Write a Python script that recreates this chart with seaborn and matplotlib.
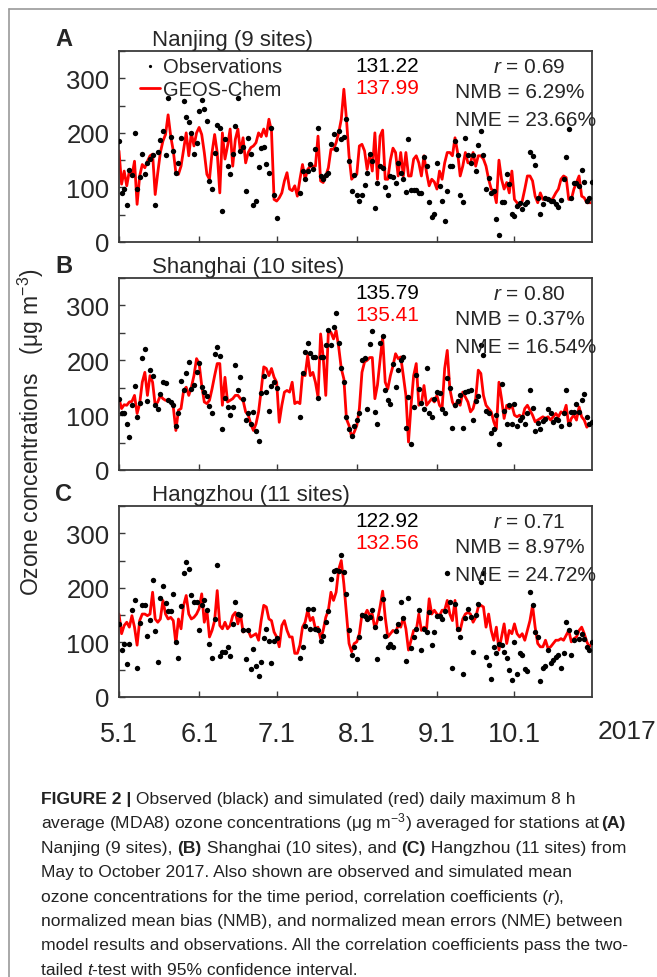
import numpy as np
import pandas as pd
import matplotlib
matplotlib.use("Agg")
import matplotlib.pyplot as plt
from matplotlib.ticker import MultipleLocator
from matplotlib.lines import Line2D
import seaborn as sns

nan = np.nan
dates = pd.date_range("2017-05-01", "2017-10-31", freq="D")

nanjing_obs = [185, 89, 97, 67, 132, 123, 200, 97, 120, 161,
               125, 145, 153, 159, 68, 165, 187, 203, 159, 263,
               192, 166, 127, 145, 191, 258, 229, 220, 199, 161,
               182, 240, 261, 244, 221, 112, 97, 163, 214, 209,
               56, 188, 139, 124, 162, 213, 263, 167, 175, 94,
               191, 161, 67, 76, 138, 172, 174, 143, 126, 208,
               87, 44, nan, nan, nan, nan, nan, nan, nan, nan,
               90, 130, 116, 130, 143, 134, 170, 209, 121, 116,
               123, 126, 180, 197, 171, 203, 189, 192, 225, 149,
               94, 122, 87, 76, 87, 104, 126, 162, 148, 63,
               109, 139, 136, 100, 86, 121, 120, 109, 144, 126,
               115, 92, 188, 95, 95, 95, 90, 90, 156, 139,
               73, 46, 52, 144, 103, 75, 39, 93, 139, 140,
               185, 160, 87, 73, 191, 160, 144, 160, 130, 177,
               203, 160, 98, 118, 89, 94, 43, 12, 73, 73,
               124, 106, 51, 48, 66, 71, 61, 70, 73, 165,
               158, 141, 81, 51, 69, 81, 78, 75, 75, 70,
               65, 77, 116, 156, 207, 81, 109, 108, 103, 132,
               110, 75, 81, 110]
nanjing_sim = [167, 106, 130, 103, 130, 121, 148, 69, 121, 142,
               136, 148, 158, 161, 87, 127, 164, 185, 197, 233,
               194, 167, 127, 124, 139, 170, 200, 158, 200, 176,
               200, 210, 197, 164, 124, 115, 164, 197, 164, 90,
               200, 152, 176, 207, 139, 188, 207, 164, 191, 145,
               164, 173, 176, 182, 200, 193, 207, 194, 225, 203,
               78, 75, 81, 90, 112, 127, 97, 94, 103, 84,
               115, 142, 115, 133, 139, 139, 139, 194, 112, 109,
               121, 136, 170, 170, 182, 200, 225, 280, 225, 158,
               115, 121, 124, 176, 179, 167, 133, 160, 130, 200,
               115, 194, 205, 115, 115, 150, 172, 164, 121, 164,
               121, 164, 121, 121, 152, 158, 145, 121, 158, 127,
               103, 115, 110, 97, 130, 115, 145, 164, 164, 158,
               191, 164, 121, 139, 164, 145, 145, 164, 139, 158,
               158, 152, 139, 115, 97, 94, 72, 150, 115, 97,
               109, 90, 130, 78, 72, 66, 75, 97, 121, 121,
               112, 84, 72, 90, 78, 81, 78, 75, 81, 90,
               97, 115, 121, 118, 78, 78, 97, 109, 121, 84,
               81, 72, 72, 72]

shanghai_obs = [130, 103, 103, 84, 61, 118, 154, 97, 123, 205,
                221, 125, 182, 171, 119, 112, 138, 160, 159, 127,
                124, 118, 80, 104, 163, 145, 177, 197, 148, 155,
                178, 195, 151, 143, 135, 116, 104, 212, 225, 208,
                74, 131, 115, 101, 115, 191, 145, 169, 129, 92,
                104, 84, 106, 72, 53, 140, 171, 143, 107, 154,
                160, 150, nan, nan, nan, nan, nan, nan, nan, nan,
                97, 177, 215, 231, 213, 206, 206, 131, 206, 206,
                227, 256, 227, 260, 287, 232, 186, 161, 96, 75,
                62, 81, 91, 104, 200, 205, 112, 230, 253, 106,
                84, 232, 244, 145, 128, 121, 194, 151, 183, 200,
                206, 77, 133, 48, 115, 174, 148, 122, 112, 186,
                104, 97, 130, 142, 141, 112, 104, 168, 150, 77,
                118, 125, 137, 77, 142, 144, 146, 92, 125, 134,
                227, 209, 107, 103, 67, 75, 100, 47, 156, 107,
                84, 118, 84, 121, 81, 92, 97, 84, 103, 146,
                113, 72, 86, 74, 90, 93, 112, 104, 87, 93,
                92, 81, 103, 145, 84, 106, 106, 121, 106, 127,
                139, 97, 84, 87]
shanghai_sim = [130, 112, 119, 118, 124, 125, 136, 103, 121, 160,
                178, 136, 172, 160, 118, 124, 136, 130, 127, 127,
                124, 115, 72, 109, 112, 145, 151, 136, 151, 172,
                203, 194, 154, 124, 121, 127, 148, 172, 194, 194,
                118, 169, 124, 127, 130, 136, 136, 130, 127, 106,
                100, 84, 72, 84, 106, 145, 188, 185, 172, 185,
                169, 160, 87, 118, 142, 145, 142, 160, 121, 124,
                121, 175, 172, 209, 172, 178, 160, 133, 248, 206,
                136, 251, 251, 239, 254, 224, 185, 166, 93, 81,
                60, 69, 81, 112, 178, 197, 200, 205, 205, 130,
                155, 200, 242, 160, 148, 172, 190, 212, 203, 206,
                172, 136, 51, 118, 172, 194, 118, 121, 154, 118,
                124, 130, 124, 136, 118, 112, 185, 218, 148, 124,
                115, 127, 118, 142, 133, 124, 106, 112, 130, 182,
                176, 136, 118, 112, 106, 88, 75, 160, 130, 94,
                118, 112, 118, 100, 97, 100, 94, 112, 118, 109,
                100, 88, 91, 94, 97, 94, 97, 91, 97, 103,
                97, 106, 103, 118, 81, 94, 100, 91, 115, 97,
                91, 78, 84, 84]

hangzhou_obs = [134, 86, 98, 60, 98, 160, 178, 53, 135, 169,
                169, 111, 142, 214, 121, 65, 181, 204, 172, 157,
                157, 189, 100, 71, 166, 228, 248, 234, 186, 174,
                175, 123, 168, 178, 160, 98, 71, 143, 242, 75,
                82, 82, 92, 76, 133, 174, 152, 151, 123, 69,
                123, 51, 88, 57, 39, 64, 109, 125, 102, 62,
                102, 109, nan, nan, nan, nan, nan, nan, nan, nan,
                71, 92, 131, 162, 124, 162, 124, 123, 103, 111,
                137, 157, 216, 230, 232, 230, 260, 229, 189, 123,
                77, 92, 69, 110, 151, 148, 143, 146, 159, 128,
                69, 145, 180, 111, 92, 97, 92, 121, 133, 174,
                145, 66, 182, 89, 110, 125, 159, 87, 125, 119,
                156, 95, 119, 149, 148, 143, 157, 228, 175, 54,
                170, 125, 110, 42, 145, 162, 146, 82, 151, 171,
                210, 228, 74, 59, 33, 92, 80, 97, 95, 82,
                71, 50, 31, 101, 42, 80, 77, 51, 47, 192,
                169, 120, 110, 30, 54, 57, 86, 63, 67, 73,
                77, 54, 81, 137, 122, 77, 105, 119, 107, 116,
                107, 91, 86, 101]
hangzhou_sim = [152, 116, 131, 137, 128, 149, 128, 95, 140, 152,
                152, 149, 152, 192, 143, 137, 143, 177, 152, 143,
                146, 140, 98, 143, 125, 168, 186, 152, 143, 146,
                152, 162, 189, 137, 159, 110, 122, 140, 195, 131,
                125, 137, 125, 131, 149, 155, 134, 152, 119, 122,
                122, 110, 113, 116, 104, 140, 168, 165, 143, 140,
                119, 110, 92, 131, 140, 122, 110, 110, 80, 80,
                95, 128, 137, 159, 140, 146, 125, 128, 107, 122,
                146, 159, 192, 177, 192, 234, 250, 207, 152, 98,
                83, 98, 101, 116, 152, 149, 159, 150, 152, 125,
                140, 165, 194, 146, 110, 116, 122, 119, 131, 128,
                146, 125, 86, 104, 122, 122, 152, 122, 128, 125,
                180, 152, 159, 152, 149, 159, 159, 177, 152, 140,
                177, 122, 122, 143, 152, 155, 152, 137, 146, 165,
                168, 165, 128, 152, 122, 104, 128, 86, 110, 134,
                98, 122, 116, 134, 116, 110, 116, 104, 122, 140,
                168, 128, 98, 92, 92, 104, 89, 92, 98, 104,
                104, 107, 104, 113, 122, 101, 107, 110, 122, 128,
                116, 101, 92, 98]

panel_letters = ["A", "B", "C"]
panel_titles = ["Nanjing (9 sites)", "Shanghai (10 sites)", "Hangzhou (11 sites)"]
obs_means = ["131.22", "135.79", "122.92"]
sim_means = ["137.99", "135.41", "132.56"]
r_vals = ["0.69", "0.80", "0.71"]
nmb_vals = ["6.29%", "0.37%", "8.97%"]
nme_vals = ["23.66%", "16.54%", "24.72%"]
month_ticks = ["2017-05-01", "2017-06-01", "2017-07-01", "2017-08-01", "2017-09-01", "2017-10-01"]
month_labels = ["5.1", "6.1", "7.1", "8.1", "9.1", "10.1"]
year_label = "2017"
obs_series = [nanjing_obs, shanghai_obs, hangzhou_obs]
sim_series = [nanjing_sim, shanghai_sim, hangzhou_sim]

sns.set_style("ticks")
plt.rcParams["font.family"] = ["Liberation Sans", "DejaVu Sans"]
plt.rcParams["mathtext.fontset"] = "custom"
plt.rcParams["mathtext.rm"] = "Liberation Sans"
plt.rcParams["mathtext.it"] = "Liberation Sans:italic"
plt.rcParams["mathtext.bf"] = "Liberation Sans:bold"

W, H = 657, 978
fig = plt.figure(figsize=(W / 100, H / 100), dpi=100)


def fx(px):
    return px / W


def fy(py):
    return 1 - py / H


ax_left, ax_right = 119, 592
tops = [52, 279, 507]
bottoms = [243, 471, 698]
spine_col = "#3a3a3a"

for i in range(3):
    ax = fig.add_axes([fx(ax_left), fy(bottoms[i]), fx(ax_right - ax_left), (bottoms[i] - tops[i]) / H])
    df = pd.DataFrame({"date": dates, "obs": obs_series[i], "sim": sim_series[i]})
    sns.lineplot(data=df, x="date", y="sim", color="#ff0000", lw=2.0, ax=ax,
                 label="GEOS-Chem", zorder=2)
    sns.scatterplot(data=df, x="date", y="obs", color="black", s=15, linewidth=0,
                    ax=ax, label="Observations", zorder=3)
    ax.set_xlim(dates[0], dates[-1])
    ax.set_ylim(0, 350)
    ax.yaxis.set_major_locator(MultipleLocator(100))
    ax.yaxis.set_minor_locator(MultipleLocator(50))
    ax.set_xticks(pd.to_datetime(month_ticks))
    ax.set_xlabel("")
    ax.set_ylabel("")
    for sp in ax.spines.values():
        sp.set_color(spine_col)
        sp.set_linewidth(1.3)
        sp.set_visible(True)
    ax.tick_params(axis="both", which="both", direction="in", length=4, width=1.0,
                   color=spine_col, top=False, right=False)
    ax.tick_params(axis="y", which="major", labelsize=18.5, pad=7)
    if i < 2:
        ax.tick_params(axis="x", labelbottom=False)
    else:
        ax.set_xticklabels(month_labels)
        ax.tick_params(axis="x", labelsize=19.5, pad=17)
    handles, labels = ax.get_legend_handles_labels()
    if ax.get_legend() is not None:
        ax.get_legend().remove()
    if i == 0:
        hmap = dict(zip(labels, handles))
        ax.legend([hmap["Observations"], hmap["GEOS-Chem"]], ["Observations", "GEOS-Chem"],
                  loc="upper left", bbox_to_anchor=(0.045, 0.97), frameon=False,
                  borderpad=0, borderaxespad=0, handlelength=1.0, handletextpad=0.12,
                  labelspacing=0.22, markerscale=0.6, prop={"size": 14.5})

    top = tops[i]
    fig.text(fx(55), fy(top - 6), panel_letters[i], fontsize=17, fontweight="bold",
             ha="left", va="baseline")
    fig.text(fx(152), fy(top - 6), panel_titles[i], fontsize=16, ha="left", va="baseline")
    fig.text(fx(355), fy(top + 20), obs_means[i], fontsize=15, color="black", ha="left", va="baseline")
    fig.text(fx(355), fy(top + 42), sim_means[i], fontsize=15, color="#ff0000", ha="left", va="baseline")
    fig.text(fx(493), fy(top + 21), r"$\it{r}$ = " + r_vals[i], fontsize=15, ha="left", va="baseline")
    fig.text(fx(455), fy(top + 46), "NMB = " + nmb_vals[i], fontsize=15, ha="left", va="baseline")
    fig.text(fx(455), fy(top + 74), "NME = " + nme_vals[i], fontsize=15, ha="left", va="baseline")

fig.text(fx(627), fy(732), year_label, fontsize=19, ha="center", va="center")
fig.text(fx(31), fy(432), "Ozone concentrations   (\u03bcg m$^{-3}$)", rotation=90,
         fontsize=16.5, ha="center", va="center")

# figure frame
fig.add_artist(Line2D([fx(9), fx(9)], [0, fy(10)], transform=fig.transFigure, color="#9a9a9a", lw=1.2))
fig.add_artist(Line2D([fx(9), 1], [fy(10), fy(10)], transform=fig.transFigure, color="#9a9a9a", lw=1.2))

# caption
cap_lines = [
    [("FIGURE 2 |", "bold"), (" Observed (black) and simulated (red) daily maximum 8 h", "normal")],
    [("average (MDA8) ozone concentrations (\u03bcg m$^{-3}$) averaged for stations at ", "normal"), ("(A)", "bold")],
    [("Nanjing (9 sites), ", "normal"), ("(B)", "bold"), (" Shanghai (10 sites), and ", "normal"),
     ("(C)", "bold"), (" Hangzhou (11 sites) from", "normal")],
    [("May to October 2017. Also shown are observed and simulated mean", "normal")],
    [("ozone concentrations for the time period, correlation coefficients (", "normal"), ("r", "italic"), ("),", "normal")],
    [("normalized mean bias (NMB), and normalized mean errors (NME) between", "normal")],
    [("model results and observations. All the correlation coefficients pass the two-", "normal")],
    [("tailed ", "normal"), ("t", "italic"), ("-test with 95% confidence interval.", "normal")],
]
renderer = fig.canvas.get_renderer()
for k, segs in enumerate(cap_lines):
    x = 41
    yb = 804 + k * 24.4
    for s, style in segs:
        kw = dict(fontsize=12.6, ha="left", va="baseline", color="#222222")
        if style == "bold":
            kw["fontweight"] = "bold"
        if style == "italic":
            kw["fontstyle"] = "italic"
        t = fig.text(fx(x), fy(yb), s, **kw)
        bb = t.get_window_extent(renderer=renderer)
        x += bb.width

fig.savefig("out.png", dpi=100)
